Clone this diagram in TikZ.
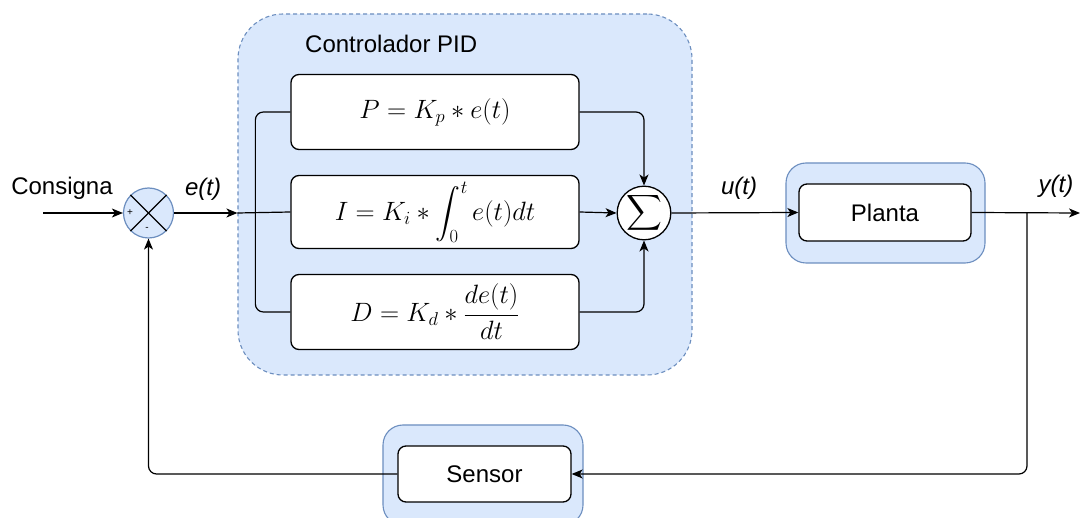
\RequirePackage{fix-cm}
\documentclass[tikz,border=0pt]{standalone}
\usepackage{amsmath}
\usepackage{fontspec}
\setmainfont{Liberation Sans}
\usetikzlibrary{arrows.meta}
\definecolor{groupfill}{HTML}{DAE8FC}
\definecolor{groupline}{HTML}{6C8EBF}
\tikzset{
  group/.style={draw=groupline, fill=groupfill, line width=1.1pt, inner sep=0pt},
  block/.style={draw=black, fill=white, rounded corners=8pt, line width=1.3pt, inner sep=0pt,
    font=\fontsize{24}{28}\selectfont},
  formula/.style={block, font=\fontsize{26.5}{30}\selectfont},
  label/.style={font=\fontsize{24}{28}\selectfont, inner sep=0pt},
  wire/.style={line width=1.2pt, -{Stealth[length=11pt, width=9pt, inset=3pt]}},
  plain/.style={line width=1.2pt},
  junction/.style={circle, draw=groupline, fill=groupfill, line width=1.2pt, minimum size=50pt, inner sep=0pt},
  adder/.style={circle, draw=black, fill=white, line width=1.3pt, minimum size=50pt, inner sep=0pt,
    font=\fontsize{27}{30}\selectfont},
}
\begin{document}
\begin{tikzpicture}[x=1pt, y=-1pt]
\useasboundingbox (0,0) rectangle (1080,518);
\clip (0,0) rectangle (1080,518);

% containers
\node[group, dashed, dash pattern=on 4pt off 3pt, rounded corners=45pt,
  minimum width=454pt, minimum height=361pt] (pid) at (465,194.5) {};
\node[label, anchor=west] (pidtitle) at (305,44) {Controlador PID};
\node[group, rounded corners=20pt, minimum width=199pt, minimum height=100pt] (plantgroup) at (885.5,213) {};
\node[group, rounded corners=20pt, minimum width=200pt, minimum height=100pt] (sensorgroup) at (483,475) {};

% PID terms
\node[formula, minimum width=288pt, minimum height=75pt] (P) at (435,112) {$P = K_p * e(t)$};
\node[formula, minimum width=288pt, minimum height=73pt] (I) at (435,212) {$I = K_i * \displaystyle\int_0^t e(t)dt$};
\node[formula, minimum width=288pt, minimum height=75pt] (D) at (435,312) {$D = K_d * \dfrac{de(t)}{dt}$};

% plant and sensor
\node[block, minimum width=172pt, minimum height=57pt] (plant) at (885,212.5) {Planta};
\node[block, minimum width=173pt, minimum height=56pt] (sensor) at (484.5,474) {Sensor};

% summing points
\node[junction] (err) at (148.5,213) {};
\draw[plain] (err.north west) -- (err.south east);
\draw[plain] (err.north east) -- (err.south west);
\node[font=\fontsize{10}{10}\selectfont, inner sep=0pt] (plus) at (130,213) {+};
\node[font=\fontsize{10}{10}\selectfont, inner sep=0pt] (minus) at (147,229) {-};
\node[adder] (sum) at (644,213) {$\displaystyle\sum$};

% signal labels
\node[label] (consigna) at (62,188) {Consigna};
\node[label, font=\fontsize{24}{28}\selectfont\itshape] (et) at (203,189) {e(t)};
\node[label, font=\fontsize{24}{28}\selectfont\itshape] (ut) at (739,188) {u(t)};
\node[label, font=\fontsize{24}{28}\selectfont\itshape] (yt) at (1056,186) {y(t)};

% connectors
\coordinate (input) at (43,213);
\coordinate (output) at (1080,213);
\coordinate (branch) at (1027,213);
\draw[wire] (input) -- (err.west);
\draw[wire] (err.east) -- (pid.west |- err);
\draw[plain] (pid.west |- err) -- (I.west);
\draw[plain, rounded corners=8pt] (P.west) -- ++(-35,0) |- (D.west);
\draw[wire, rounded corners=8pt] (P.east) -| (sum.north);
\draw[wire] (I.east) -- (sum.west);
\draw[wire, rounded corners=8pt] (D.east) -| (sum.south);
\draw[wire] (sum.east) -- (plant.west);
\draw[wire] (plant.east) -- (output);
\draw[wire, rounded corners=8pt] (branch) |- (sensor.east);
\draw[wire, rounded corners=8pt] (sensor.west) -| (err.south);
\end{tikzpicture}
\end{document}
